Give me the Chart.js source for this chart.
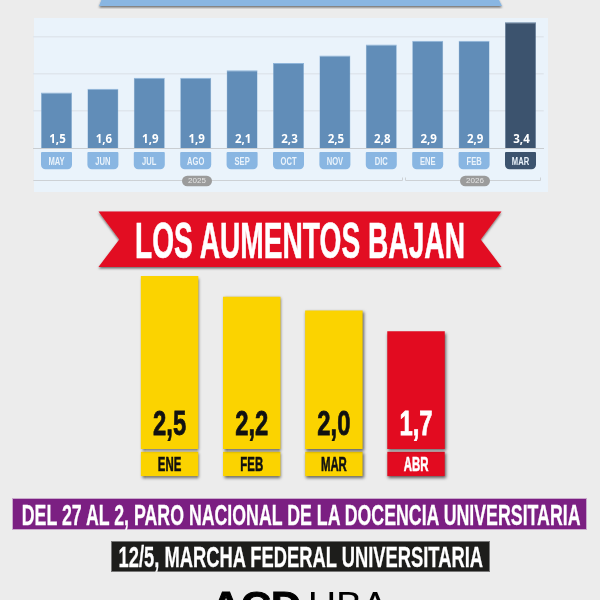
<!DOCTYPE html>
<html><head><meta charset="utf-8">
<script src="https://cdn.jsdelivr.net/npm/chart.js@4"></script>
<style>
html,body{margin:0;padding:0;background:#ececec;width:600px;height:600px;overflow:hidden}
#stage{position:relative;width:600px;height:600px;overflow:hidden}
.abs{position:absolute}
canvas{position:absolute;left:0;top:0}
svg{position:absolute;left:0;top:0}
svg text{font-family:"Liberation Sans Narrow","Liberation Sans",sans-serif;font-weight:700;fill:#fff}
</style></head><body>
<div id="stage">
<div class="abs" style="left:34px;top:18px;width:513.5px;height:174px;background:#eaf3fb"></div>
<svg width="600" height="600">
<defs><filter id="sh" x="-5%" y="-20%" width="110%" height="150%"><feDropShadow dx="0" dy="1.5" stdDeviation="1" flood-color="#000" flood-opacity=".55"/></filter></defs>
<polygon points="103,-4 497,-4 502,6 99,6" fill="#89b6e2" filter="url(#sh)"/>
<polygon points="98.5,211.5 501.5,211.5 480.7,239.4 501.5,267 98.5,267 119.3,239.4" fill="#e20b20" filter="url(#sh)"/>
</svg>
<canvas id="top" width="600" height="600"></canvas>
<canvas id="bottom" width="600" height="600"></canvas>
<div class="abs" style="left:12px;top:498px;width:575px;height:32px;background:#7b1f82;box-sizing:border-box;border:.5px solid #c9a9cc"></div>
<div class="abs" style="left:111px;top:541px;width:379px;height:31px;background:#1d1d1b;box-sizing:border-box;border:.5px solid #777"></div>
<svg width="600" height="600">
<text x="135" y="257.5" font-size="50" textLength="330" lengthAdjust="spacingAndGlyphs" style="stroke:#fff;stroke-width:.6">LOS AUMENTOS BAJAN</text>
<text x="21.8" y="525" font-size="29.5" textLength="558.7" lengthAdjust="spacingAndGlyphs" style="stroke:#fff;stroke-width:.3">DEL 27 AL 2, PARO NACIONAL DE LA DOCENCIA UNIVERSITARIA</text>
<text x="118.6" y="567" font-size="29.5" textLength="364.4" lengthAdjust="spacingAndGlyphs" style="stroke:#fff;stroke-width:.3">12/5, MARCHA FEDERAL UNIVERSITARIA</text>
<text x="211" y="618" font-size="37" textLength="90" lengthAdjust="spacingAndGlyphs" style="fill:#000;stroke:#000;stroke-width:1;font-family:'Liberation Sans',sans-serif">ACD</text>
<text x="308" y="618" font-size="37" textLength="80" lengthAdjust="spacingAndGlyphs" style="fill:#000;font-weight:400;font-family:'Liberation Sans',sans-serif">UBA</text>
</svg>
</div>
<script>
// Reference data
const topMonths = ["MAY","JUN","JUL","AGO","SEP","OCT","NOV","DIC","ENE","FEB","MAR"];
const topValues = [1.5,1.6,1.9,1.9,2.1,2.3,2.5,2.8,2.9,2.9,3.4];
const topTicks = [1,2,3];
const topYears = ["2025","2026"];
const bottomMonths = ["ENE","FEB","MAR","ABR"];
const bottomValues = [2.5,2.2,2.0,1.7];

const comma = v => v.toFixed(1).replace(".", ",");
const NARROW = '"Liberation Sans Narrow","Liberation Sans",sans-serif';
const shadow = ctx => {ctx.shadowColor="rgba(0,0,0,.6)";ctx.shadowBlur=3;ctx.shadowOffsetX=1;ctx.shadowOffsetY=1.5;};

const topPlugin = {
  id:"topDecor",
  beforeDatasetsDraw(c){
    const {ctx,chartArea:a}=c, x=c.scales.x;
    ctx.save();
    const step=(x.getPixelForValue(1)-x.getPixelForValue(0))/2;
    const end25=Math.floor(x.getPixelForValue(7)+step-2)+.5, start26=Math.floor(x.getPixelForValue(8)-step+1)+.5, end26=Math.floor(a.right-3.5)+.5;
    ctx.strokeStyle="#cdd1d5";ctx.lineWidth=1;
    ctx.beginPath();ctx.moveTo(a.left,180.5);ctx.lineTo(end25,180.5);ctx.lineTo(end25,177.5);
    ctx.moveTo(start26,177.5);ctx.lineTo(start26,180.5);ctx.lineTo(end26,180.5);ctx.lineTo(end26,177.5);ctx.stroke();
    topMonths.forEach((m,i)=>{
      const cx=x.getPixelForValue(i);
      ctx.fillStyle=i===10?"#3c536e":"#89b6e2";
      ctx.beginPath();ctx.roundRect(cx-15.5,152,31,17.3,[1,1,4.5,4.5]);ctx.fill();
      ctx.save();ctx.translate(cx,164.5);ctx.scale(.76,1);
      ctx.fillStyle="#eaf3fb";
      ctx.font='700 10px '+NARROW;
      ctx.textAlign="center";ctx.textBaseline="alphabetic";ctx.fillText(m,0,0);
      ctx.restore();
    });
    [[x.getPixelForValue(3)+1.3,topYears[0]],[x.getPixelForValue(9)+.9,topYears[1]]].forEach(([cx,t])=>{
      ctx.fillStyle="#9b9b9b";ctx.beginPath();ctx.roundRect(cx-15,175.7,30,10.5,5.25);ctx.fill();
      ctx.fillStyle="#e6e6e6";ctx.font='400 8px "Liberation Sans",sans-serif';
      ctx.textAlign="center";ctx.textBaseline="middle";ctx.fillText(t,cx,181.2);
    });
    ctx.restore();
  },
  afterDatasetsDraw(c){
    const {ctx}=c;
    ctx.save();
    c.getDatasetMeta(0).data.forEach((b,i)=>{
      ctx.fillStyle="#fff";ctx.font='700 11.5px "Open Sans",sans-serif';
      ctx.textAlign="center";ctx.textBaseline="alphabetic";
      ctx.fillText(comma(topValues[i]),b.x+1,142.8);
    });
    ctx.restore();
  }
};

new Chart(document.getElementById("top"),{
  type:"bar",
  data:{labels:topMonths,datasets:[{data:topValues,
    backgroundColor:topValues.map((v,i)=>i===10?"#3c536e":"#618db8"),
    borderColor:topValues.map((v,i)=>i===10?"#5f7c9c":"#8fb5da"),
    borderWidth:{top:1,left:.5,right:.5,bottom:0},
    barPercentage:.668,categoryPercentage:1}]},
  options:{responsive:false,animation:false,devicePixelRatio:1,
    layout:{padding:{left:33.3,right:56.3,top:18.5,bottom:452}},
    plugins:{legend:{display:false},tooltip:{enabled:false}},
    scales:{
      x:{display:true,ticks:{display:false},border:{display:true,color:"#c9cdd1",width:1},grid:{display:false,drawTicks:false}},
      y:{display:true,min:0,max:3.5,afterBuildTicks(s){s.ticks=topTicks.map(v=>({value:v}));},
        ticks:{display:false},border:{display:false},grid:{color:"#dfe6ed",lineWidth:1.5,drawTicks:false}}
    }},
  plugins:[topPlugin]
});

const bottomPlugin = {
  id:"bottomDecor",
  beforeDatasetsDraw(c){
    const {ctx}=c, x=c.scales.x;
    ctx.save();shadow(ctx);
    bottomMonths.forEach((m,i)=>{
      const cx=x.getPixelForValue(i);
      ctx.fillStyle=i===3?"#e20b20":"#fbd300";
      ctx.fillRect(cx-28.7,451.8,57.4,24.3);
    });
    ctx.restore();
    bottomMonths.forEach((m,i)=>{
      const cx=x.getPixelForValue(i);
      const col=i===3?"#fff":"#111";
      ctx.save();ctx.translate(cx,471);ctx.scale(.57,1);
      ctx.fillStyle=col;ctx.strokeStyle=col;ctx.lineWidth=.6;
      ctx.font='700 20px '+NARROW;
      ctx.textAlign="center";ctx.textBaseline="alphabetic";ctx.fillText(m,0,0);ctx.strokeText(m,0,0);
      ctx.restore();
    });
    ctx.save();shadow(ctx);
  },
  afterDatasetsDraw(c){
    const {ctx}=c;
    ctx.restore();
    c.getDatasetMeta(0).data.forEach((b,i)=>{
      const col=i===3?"#fff":"#111", s=comma(bottomValues[i]);
      ctx.save();ctx.translate(b.x,435);ctx.scale(.68,1);
      ctx.fillStyle=col;ctx.strokeStyle=col;ctx.lineWidth=.8;
      ctx.font='700 35px '+NARROW;
      ctx.textAlign="center";ctx.textBaseline="alphabetic";
      ctx.fillText(s,0,0);ctx.strokeText(s,0,0);
      ctx.restore();
    });
  }
};

new Chart(document.getElementById("bottom"),{
  type:"bar",
  data:{labels:bottomMonths,datasets:[{data:bottomValues,clip:false,
    backgroundColor:bottomValues.map((v,i)=>i===3?"#e20b20":"#fbd300"),
    borderWidth:0,barPercentage:.70,categoryPercentage:1}]},
  options:{responsive:false,animation:false,devicePixelRatio:1,
    layout:{padding:{left:128.5,right:142.9,top:276,bottom:151}},
    plugins:{legend:{display:false},tooltip:{enabled:false}},
    scales:{
      x:{display:false},
      y:{display:false,min:0,max:2.5}
    }},
  plugins:[bottomPlugin]
});
</script>
</body></html>
